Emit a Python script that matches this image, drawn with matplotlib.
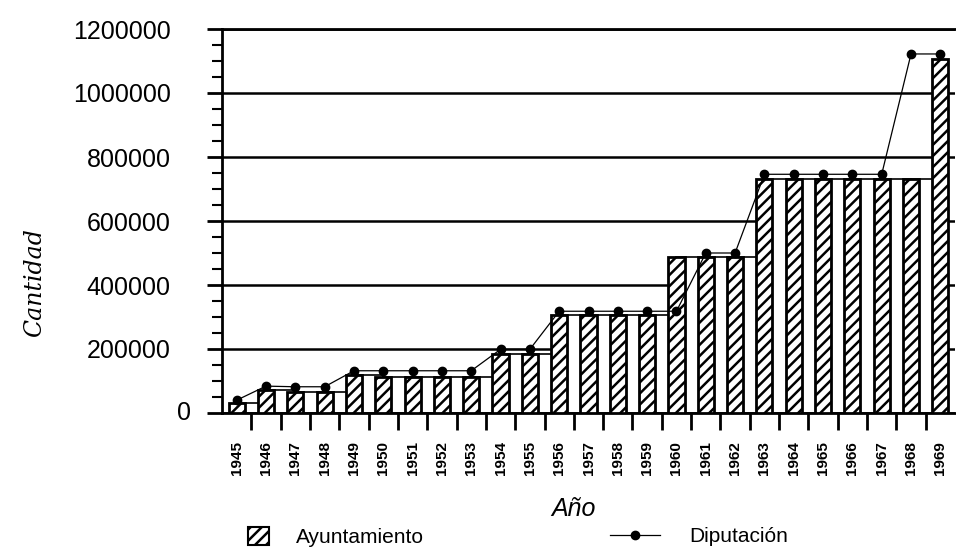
import numpy as np
import matplotlib
matplotlib.use("Agg")
import matplotlib.pyplot as plt
from matplotlib.patches import Patch
from matplotlib.lines import Line2D
from matplotlib.ticker import MultipleLocator, FixedLocator, FuncFormatter

# datos
years = [str(y) for y in range(1945, 1970)]
ayuntamiento = [32000, 72000, 66000, 66000, 118000, 113000, 113000, 113000, 113000,
                185000, 185000, 306000, 306000, 306000, 306000, 488000, 488000, 488000,
                732000, 732000, 732000, 732000, 732000, 732000, 1106000]
diputacion = [40000, 84000, 82000, 82000, 132000, 132000, 132000, 132000, 132000,
              199000, 199000, 318000, 318000, 318000, 318000, 318000, 500000, 500000,
              746000, 746000, 746000, 746000, 746000, 1122000, 1122000]

plt.rcParams['font.family'] = ['Liberation Sans', 'DejaVu Sans']
plt.rcParams['hatch.linewidth'] = 1.8

fig = plt.figure(figsize=(9.56, 5.54), dpi=100)
ax = fig.add_axes([222 / 956, 1 - 413 / 554, 733 / 956, 384 / 554])

x = np.arange(len(years))

# cajas blancas entre barras (tapan la rejilla)
ax.bar(x[:-1] + 0.5, ayuntamiento[:-1], width=1.0, color='white',
       edgecolor='black', linewidth=1.2, zorder=2)
# barras rayadas
ax.bar(x, ayuntamiento, width=0.55, facecolor='white', edgecolor='black',
       hatch='///', linewidth=2.0, zorder=3)
# linea con puntos
ax.plot(x, diputacion, color='black', lw=0.9, marker='o', ms=6, zorder=4)

ax.set_xlim(-0.5, len(years) - 0.5)
ax.set_ylim(0, 1200000)

ax.yaxis.set_major_locator(MultipleLocator(200000))
ax.yaxis.set_minor_locator(MultipleLocator(50000))
ax.yaxis.set_major_formatter(FuncFormatter(lambda v, p: '' if v == 0 else '%d' % v))
ax.yaxis.grid(True, which='major', color='black', lw=1.8)
ax.set_axisbelow(True)
# el cero va mas cerca del eje
ax.annotate('0', xy=(0, 0), xycoords=('axes fraction', 'data'), xytext=(-22, 0),
            textcoords='offset points', ha='right', va='center', fontsize=18)

ax.set_xticks(x)
ax.set_xticklabels(years, rotation=90, fontsize=11, fontweight='bold')
ax.xaxis.set_minor_locator(FixedLocator(x[:-1] + 0.5))
ax.tick_params(axis='x', which='major', length=0, pad=20)
ax.tick_params(axis='x', which='minor', length=12, width=2)
ax.tick_params(axis='y', which='major', length=11, width=2, labelsize=18, pad=26)
ax.tick_params(axis='y', which='minor', length=7, width=1.5)

ax.spines['right'].set_visible(False)
for s in ['left', 'bottom', 'top']:
    ax.spines[s].set_linewidth(2)

ax.set_ylabel('Cantidad', fontsize=17, fontstyle='italic', family='DejaVu Serif')
ax.yaxis.set_label_coords(-0.24, 0.34)
ax.set_xlabel('Año', fontsize=18, fontstyle='italic')
ax.xaxis.set_label_coords(0.48, -0.22)

fig.legend(handles=[Patch(facecolor='white', edgecolor='black', hatch='///', lw=1.5)],
           labels=['Ayuntamiento'], loc='center left',
           bbox_to_anchor=(248 / 956, 1 - 537 / 554), frameon=False,
           handlelength=1.0, handleheight=1.0, handletextpad=1.3,
           fontsize=15, borderpad=0, borderaxespad=0)
fig.legend(handles=[Line2D([], [], color='black', lw=0.9, marker='o', ms=6)],
           labels=['Diputación'], loc='center left',
           bbox_to_anchor=(610 / 956, 1 - 537 / 554), frameon=False,
           handlelength=2.4, handletextpad=1.4, numpoints=1,
           fontsize=15, borderpad=0, borderaxespad=0)

fig.savefig('out.png', dpi=100)
